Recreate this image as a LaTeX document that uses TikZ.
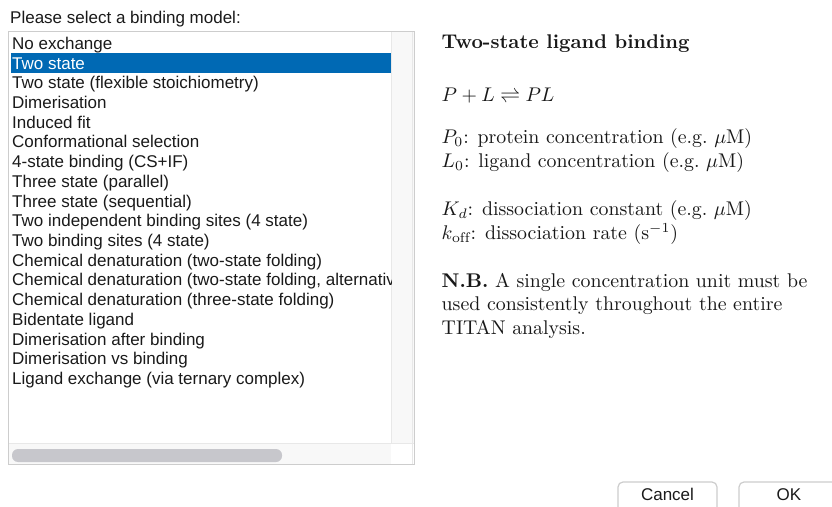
\documentclass[tikz,border=0pt]{standalone}
\usepackage{fontspec}
\newfontfamily\uifont{Liberation Sans}
\definecolor{selblue}{RGB}{0,105,180}
\definecolor{itemtext}{RGB}{26,26,26}
\definecolor{bodytext}{RGB}{24,24,24}
\definecolor{frameline}{RGB}{205,205,205}
\definecolor{trackfill}{RGB}{248,248,248}
\definecolor{trackline}{RGB}{232,232,232}
\definecolor{thumbfill}{RGB}{199,199,204}
\definecolor{btnline}{RGB}{205,205,205}
% description text is set at the 10pt design size and enlarged
\newcommand{\bodyline}[1]{\scalebox{1.985}{#1}}
\tikzset{
  uitext/.style={anchor=base west, inner sep=0pt, text=itemtext,
    font=\uifont\fontsize{17bp}{20bp}\selectfont},
  body/.style={anchor=base west, inner sep=0pt, text=bodytext,
    font=\fontsize{10bp}{12bp}\selectfont},
  btnbox/.style={draw=btnline, fill=white, line width=1.2bp, rounded corners=5bp},
  btnlabel/.style={anchor=base, inner sep=0pt, text=itemtext,
    font=\uifont\fontsize{17bp}{20bp}\selectfont},
}
\begin{document}
\begin{tikzpicture}[x=1bp, y=-1bp]
\useasboundingbox (0,0) rectangle (832,507);
\clip (0,0) rectangle (832,507);
\fill[white] (0,0) rectangle (832,507);

% prompt above the list
\node[uitext] (prompt) at (10,24) {Please select a binding model:};

% list box frame and scroll areas
\fill[white] (8.5,31.5) rectangle (414.5,464.5);
\fill[trackfill] (391,32) rectangle (413.5,443);
\draw[trackline] (391.3,32) -- (391.3,443);
\draw[trackline] (411.8,32) -- (411.8,464);
\fill[trackfill] (9,443) rectangle (391,464);
\draw[trackline] (9,443.3) -- (413.5,443.3);
\fill[thumbfill, rounded corners=6bp] (12,449) rectangle (282,462);
\draw[frameline, line width=1.3bp] (8.5,31.5) rectangle (414.5,464.5);

% selection highlight
\fill[selblue] (10.5,53.5) rectangle (391,73);

% list entries, clipped at the scroll bar
\begin{scope}
\clip (9,32) rectangle (391,443);
\foreach \t [count=\i from 0] in {
  No exchange,
  Two state,
  Two state (flexible stoichiometry),
  Dimerisation,
  Induced fit,
  Conformational selection,
  4-state binding (CS+IF),
  Three state (parallel),
  Three state (sequential),
  Two independent binding sites (4 state),
  Two binding sites (4 state),
  Chemical denaturation (two-state folding),
  {Chemical denaturation (two-state folding, alternativ},
  Chemical denaturation (three-state folding),
  Bidentate ligand,
  Dimerisation after binding,
  Dimerisation vs binding,
  Ligand exchange (via ternary complex)}
  \node[uitext] (item\i) at (12,{49.3+19.72*\i}) {\ifnum\i=1 \color{white}\fi\t};
\end{scope}

% model description
\node[body] (title) at (441.5,48.3) {\bodyline{\bfseries Two-state ligand binding}};
\node[body] (scheme) at (441.5,101.5) {\bodyline{$P + L \rightleftharpoons PL$}};
\node[body] (ptot) at (441.5,144) {\bodyline{$P_0$: protein concentration (e.g.\ $\mu$M)}};
\node[body] (ltot) at (441.5,168) {\bodyline{$L_0$: ligand concentration (e.g.\ $\mu$M)}};
\node[body] (kd) at (441.5,216) {\bodyline{$K_d$: dissociation constant (e.g.\ $\mu$M)}};
\node[body] (koff) at (441.5,240) {\bodyline{$k_{\mathrm{off}}$: dissociation rate (s$^{-1}$)}};
\node[body] (nb1) at (441.5,287.3) {\bodyline{\textbf{N.B.} A single concentration unit must be}};
\node[body] (nb2) at (441.5,310.7) {\bodyline{used consistently throughout the entire}};
\node[body] (nb3) at (441.5,334) {\bodyline{TITAN analysis.}};

% dialog buttons
\draw[btnbox] (618,482) rectangle (717,525);
\node[btnlabel] (cancel) at (667.5,500.7) {Cancel};
\draw[btnbox] (739,482) rectangle (850,525);
\node[btnlabel] (ok) at (789,500.7) {OK};
\end{tikzpicture}
\end{document}
